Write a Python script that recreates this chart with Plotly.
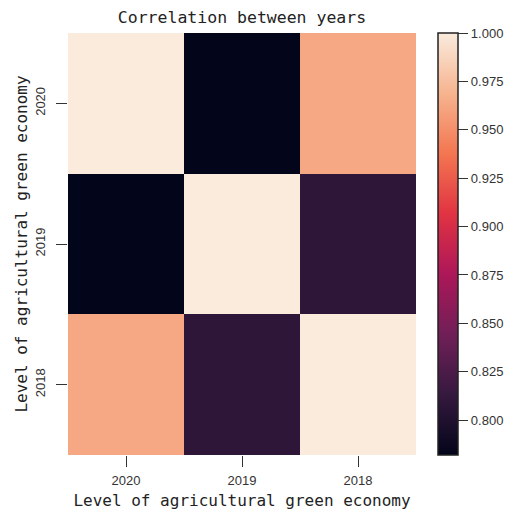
import plotly.graph_objects as go

years = ["2020", "2019", "2018"]
corr = [
    [1.000, 0.782, 0.963],
    [0.782, 1.000, 0.808],
    [0.963, 0.808, 1.000],
]
cbar_ticks = [0.800, 0.825, 0.850, 0.875, 0.900, 0.925, 0.950, 0.975, 1.000]

rocket = [
    [0.0, "#03051a"],
    [1 / 7, "#35193e"],
    [2 / 7, "#701f57"],
    [3 / 7, "#ad1759"],
    [4 / 7, "#e13342"],
    [5 / 7, "#f37651"],
    [6 / 7, "#f6b48f"],
    [1.0, "#faebdd"],
]

mono = "DejaVu Sans Mono"
sans = "Liberation Sans"

fig = go.Figure(go.Heatmap(
    z=corr, x=years, y=years,
    colorscale=rocket, zmin=min(min(r) for r in corr), zmax=1.0,
    colorbar=dict(
        x=1.063, xanchor="left", xpad=0,
        thickness=20, len=1.0, lenmode="fraction", y=0.5, yanchor="middle", ypad=0,
        outlinecolor="#222222", outlinewidth=1.5,
        tickvals=cbar_ticks, ticktext=[f"{v:.3f}" for v in cbar_ticks],
        ticks="outside", ticklen=10, tickwidth=1.3, tickcolor="#333333",
        tickfont=dict(family=sans, size=13, color="#333333"),
    ),
))

fig.update_layout(
    width=509, height=504,
    margin=dict(l=60, r=101, t=25, b=57, autoexpand=False),
    paper_bgcolor="white", plot_bgcolor="white",
    title=dict(text="Correlation between years", xref="paper", x=0.5, xanchor="center",
               y=1 - 9 / 504, yanchor="middle",
               font=dict(family=mono, size=16.5, color="#222222")),
    xaxis=dict(
        title=dict(text="Level of agricultural green economy",
                   font=dict(family=mono, size=16, color="#222222"), standoff=8),
        ticks="outside", ticklen=11, tickwidth=1.3, tickcolor="#333333",
        ticklabelstandoff=2,
        tickfont=dict(family=sans, size=13, color="#333333"),
        showgrid=False, zeroline=False, showline=False,
    ),
    yaxis=dict(
        title=dict(text="Level of agricultural green economy",
                   font=dict(family=mono, size=16, color="#222222"), standoff=1),
        autorange="reversed",
        ticks="outside", ticklen=11, tickwidth=1.3, tickcolor="#333333", tickangle=-90,
        ticklabelstandoff=6,
        tickfont=dict(family=sans, size=13, color="#333333"),
        showgrid=False, zeroline=False, showline=False,
    ),
)

fig.write_html("out.html")
